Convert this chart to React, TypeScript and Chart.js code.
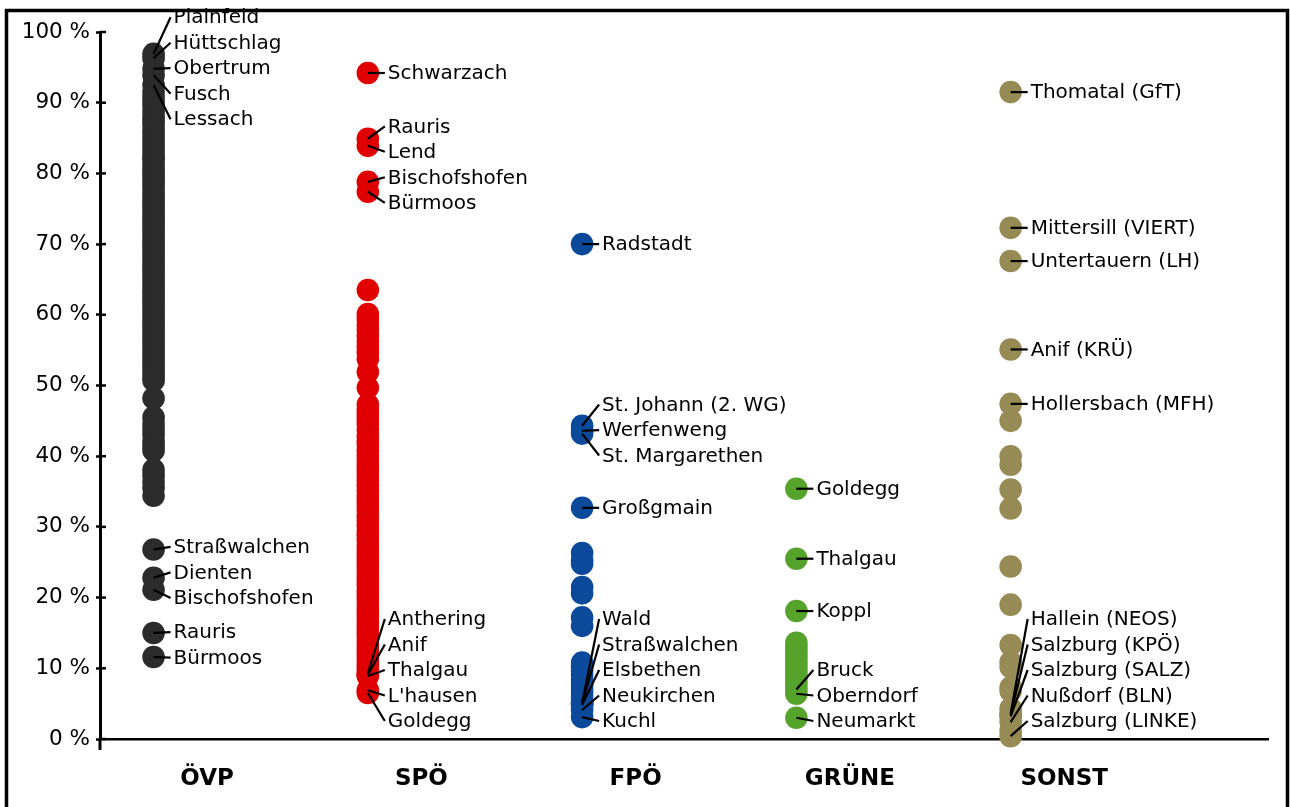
import React, { useEffect, useRef } from "react";
import { Chart, registerables } from "chart.js";

Chart.register(...registerables);

const categories = ["ÖVP", "SPÖ", "FPÖ", "GRÜNE", "SONST"];
const partyColors = ["#2b2b2b", "#e10000", "#0b4a9b", "#56a32b", "#968a55"];

const ovpValues = [
  96.9, 96.3, 94.8, 93.9, 92.5, 91.6, 90.8, 90.1, 89.5, 88.7, 88.0, 87.4, 86.9, 86.1,
  85.5, 84.8, 84.2, 83.6, 83.0, 82.3, 81.9, 81.2, 80.6, 80.1, 79.5, 78.9, 78.4, 77.8,
  77.1, 76.6, 76.0, 75.5, 74.9, 74.3, 73.8, 73.2, 72.7, 72.1, 71.6, 71.0, 70.4, 69.9,
  69.3, 68.7, 68.2, 67.6, 67.0, 66.5, 65.9, 65.3, 64.8, 64.2, 63.6, 63.1, 62.5, 62.0,
  61.4, 60.8, 60.3, 59.7, 59.1, 58.6, 58.0, 57.5, 56.9, 56.3, 55.8, 55.2, 54.6, 54.1,
  53.5, 52.9, 52.4, 51.8, 51.2, 50.7, 48.2, 45.5, 44.6, 43.8, 43.0, 42.1, 41.4, 40.8,
  38.1, 37.3, 36.4, 35.5, 34.4, 26.8, 22.8, 21.1, 15.0, 11.6,
];
const spoValues = [
  94.2, 84.9, 83.9, 78.8, 77.4, 63.5, 60.1, 59.4, 58.6, 57.9, 57.0, 56.2, 55.4, 54.7,
  53.8, 51.9, 49.7, 47.3, 46.5, 45.9, 45.2, 44.6, 43.7, 42.9, 42.2, 41.6, 40.8, 40.1,
  39.4, 38.7, 38.0, 37.3, 36.6, 35.9, 35.2, 34.4, 33.7, 33.1, 32.4, 31.6, 30.9, 30.2,
  29.4, 28.8, 28.1, 27.3, 26.6, 26.0, 25.3, 24.6, 23.9, 23.2, 22.6, 21.9, 21.1, 20.5,
  19.8, 19.1, 18.4, 17.8, 17.1, 16.4, 15.8, 15.1, 14.5, 13.8, 13.1, 12.5, 11.8, 11.1,
  10.5, 9.9, 9.3, 9.1, 8.9, 6.9, 6.5,
];
const fpoValues = [
  70.0, 44.3, 43.6, 43.2, 32.7, 26.3, 25.3, 24.8, 21.5, 20.6, 17.2, 16.0, 10.8, 10.2,
  9.6, 9.0, 8.4, 7.8, 7.2, 6.6, 6.0, 5.4, 5.1, 5.0, 4.8, 4.1, 3.1,
];
const grueneValues = [
  35.4, 25.5, 18.1, 13.6, 13.0, 12.4, 11.8, 11.2, 10.6, 10.0, 9.4, 8.8, 8.2, 7.6, 7.0,
  6.4, 3.0,
];
const sonstValues = [
  91.5, 72.3, 67.6, 55.1, 47.4, 45.0, 40.0, 38.8, 35.3, 32.6, 24.4, 19.0, 13.3, 10.9,
  10.2, 7.3, 6.8, 4.3, 3.6, 3.4, 3.2, 2.4, 1.2, 0.4,
];

const ovpLabelNames = ["Plainfeld", "Hüttschlag", "Obertrum", "Fusch", "Lessach", "Straßwalchen", "Dienten", "Bischofshofen", "Rauris", "Bürmoos"];
const ovpLabelValues = [96.9, 96.3, 94.8, 93.9, 92.5, 26.8, 22.8, 21.1, 15.0, 11.6];
const spoLabelNames = ["Schwarzach", "Rauris", "Lend", "Bischofshofen", "Bürmoos", "Anthering", "Anif", "Thalgau", "L'hausen", "Goldegg"];
const spoLabelValues = [94.2, 84.9, 83.9, 78.8, 77.4, 9.3, 9.1, 8.9, 6.9, 6.5];
const fpoLabelNames = ["Radstadt", "St. Johann (2. WG)", "Werfenweng", "St. Margarethen", "Großgmain", "Wald", "Straßwalchen", "Elsbethen", "Neukirchen", "Kuchl"];
const fpoLabelValues = [70.0, 44.3, 43.6, 43.2, 32.7, 5.1, 5.0, 4.8, 4.1, 3.1];
const grueneLabelNames = ["Goldegg", "Thalgau", "Koppl", "Bruck", "Oberndorf", "Neumarkt"];
const grueneLabelValues = [35.4, 25.5, 18.1, 7.0, 6.4, 3.0];
const sonstLabelNames = ["Thomatal (GfT)", "Mittersill (VIERT)", "Untertauern (LH)", "Anif (KRÜ)", "Hollersbach (MFH)", "Hallein (NEOS)", "Salzburg (KPÖ)", "Salzburg (SALZ)", "Nußdorf (BLN)", "Salzburg (LINKE)"];
const sonstLabelValues = [91.5, 72.3, 67.6, 55.1, 47.4, 3.6, 3.4, 3.2, 2.4, 0.4];

const yTickValues = [0, 10, 20, 30, 40, 50, 60, 70, 80, 90, 100];

const seriesValues = [ovpValues, spoValues, fpoValues, grueneValues, sonstValues];
const labelNames = [ovpLabelNames, spoLabelNames, fpoLabelNames, grueneLabelNames, sonstLabelNames];
const labelValues = [ovpLabelValues, spoLabelValues, fpoLabelValues, grueneLabelValues, sonstLabelValues];

const DOT_OFFSET = -0.25;
const LABEL_SPACING = 25.5;
const LABEL_FONT = "20px 'DejaVu Sans'";

function layoutLabels(anchors: number[], spacing: number, minY: number, maxY: number): number[] {
  let clusters = anchors.map((a) => ({ n: 1, sum: a, top: a }));
  const place = (c: any) => {
    let top = c.sum / c.n - ((c.n - 1) * spacing) / 2;
    if (top < minY) top = minY;
    if (top + (c.n - 1) * spacing > maxY) top = maxY - (c.n - 1) * spacing;
    c.top = top;
  };
  clusters.forEach(place);
  let merged = true;
  while (merged) {
    merged = false;
    for (let i = 0; i < clusters.length - 1; i++) {
      const a = clusters[i];
      const b = clusters[i + 1];
      const aBottom = a.top + (a.n - 1) * spacing;
      if (b.top - aBottom < spacing) {
        const c = { n: a.n + b.n, sum: a.sum + b.sum, top: 0 };
        place(c);
        clusters.splice(i, 2, c);
        merged = true;
        break;
      }
    }
  }
  const out: number[] = [];
  clusters.forEach((c) => {
    for (let k = 0; k < c.n; k++) out.push(c.top + k * spacing);
  });
  return out;
}

const labelPlugin = {
  id: "repelLabels",
  afterDatasetsDraw(chart: any) {
    const { ctx, scales } = chart;
    const xs = scales.x;
    const ys = scales.y;
    ctx.save();
    ctx.font = LABEL_FONT;
    ctx.fillStyle = "#000";
    ctx.strokeStyle = "#000";
    ctx.lineWidth = 2.2;
    ctx.textBaseline = "middle";
    ctx.textAlign = "left";
    labelNames.forEach((names, i) => {
      const vals = labelValues[i];
      const idx = names.map((_, k) => k).sort((a, b) => vals[b] - vals[a]);
      const anchors = idx.map((k) => ys.getPixelForValue(vals[k]));
      const pos = layoutLabels(anchors, LABEL_SPACING, 10, ys.bottom - 18);
      const x = xs.getPixelForValue(i + DOT_OFFSET);
      idx.forEach((k, j) => {
        ctx.beginPath();
        ctx.moveTo(x, anchors[j]);
        ctx.lineTo(x + 17, pos[j]);
        ctx.stroke();
        ctx.fillText(names[k], x + 20, pos[j] + 1);
      });
    });
    ctx.restore();
  },
  afterDraw(chart: any) {
    const { ctx, scales, chartArea } = chart;
    const ys = scales.y;
    ctx.save();
    ctx.strokeStyle = "#000";
    ctx.lineWidth = 2.5;
    ys.ticks.forEach((t: any) => {
      const y = ys.getPixelForValue(t.value);
      ctx.beginPath();
      ctx.moveTo(chartArea.left, y);
      ctx.lineTo(chartArea.left + 6, y);
      ctx.stroke();
    });
    ctx.lineWidth = 3;
    ctx.beginPath();
    ctx.moveTo(chartArea.left, chartArea.bottom);
    ctx.lineTo(chartArea.left, chartArea.bottom + 11);
    ctx.stroke();
    ctx.lineWidth = 3.5;
    ctx.strokeRect(6.5, 10.5, 1281, 900);
    ctx.restore();
  },
};

export default function App() {
  const ref = useRef<HTMLCanvasElement>(null);
  useEffect(() => {
    if (!ref.current) return;
    const datasets = seriesValues.map((vals, i) => ({
      label: categories[i],
      data: vals.map((v) => ({ x: i + DOT_OFFSET, y: v })),
      backgroundColor: partyColors[i],
      borderWidth: 0,
      pointRadius: 11.3,
      pointHoverRadius: 11.3,
      clip: false as any,
    }));
    const chart = new Chart(ref.current, {
      type: "scatter",
      data: { datasets },
      options: {
        responsive: false,
        animation: false,
        events: [],
        layout: { padding: { top: 32, right: 22, bottom: 0, left: 0 } },
        plugins: { legend: { display: false }, tooltip: { enabled: false } },
        scales: {
          x: {
            type: "linear",
            min: -0.5,
            max: 4.951,
            afterBuildTicks: (scale: any) => {
              scale.ticks = categories.map((_, i) => ({ value: i }));
            },
            afterFit: (scale: any) => {
              scale.height = 68;
            },
            grid: { display: false, drawTicks: false },
            border: { display: true, color: "#000", width: 2.5 },
            ticks: {
              autoSkip: false,
              maxRotation: 0,
              padding: 26,
              color: "#000",
              font: { family: "'DejaVu Sans'", size: 23, weight: "bold" },
              callback: (v: any) => categories[Math.round(v)] ?? "",
            },
          },
          y: {
            type: "linear",
            min: 0,
            max: 100,
            afterBuildTicks: (scale: any) => {
              scale.ticks = yTickValues.map((v) => ({ value: v }));
            },
            afterFit: (scale: any) => {
              scale.width = 100;
            },
            grid: {
              drawOnChartArea: false,
              drawTicks: true,
              tickLength: 4,
              tickWidth: 2.5,
              tickColor: "#000",
            },
            border: { display: true, color: "#000", width: 3 },
            ticks: {
              padding: 6,
              color: "#000",
              font: { family: "'DejaVu Sans'", size: 21.5 },
              callback: (v: any) => `${v} %`,
            },
          },
        },
      },
      plugins: [labelPlugin],
    });
    return () => chart.destroy();
  }, []);
  return (
    <div style={{ position: "fixed", left: 0, top: 0, width: 1290, height: 807, background: "#fff" }}>
      <canvas ref={ref} width={1290} height={807} style={{ display: "block" }} />
    </div>
  );
}
